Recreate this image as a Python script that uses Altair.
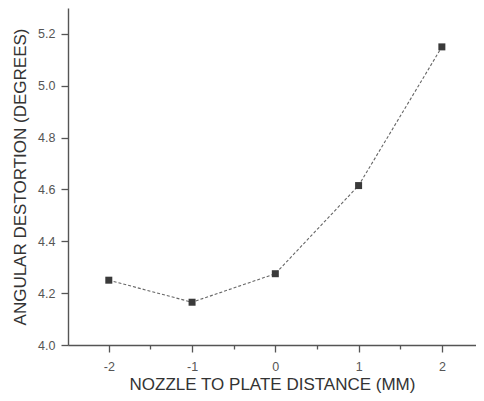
import altair as alt
import pandas as pd

distance = [-2, -1, 0, 1, 2]
distortion = [4.25, 4.165, 4.275, 4.615, 5.15]

x_ticks = [-2, -1.5, -1, -0.5, 0, 0.5, 1, 1.5, 2]
y_ticks = [4.0, 4.1, 4.2, 4.3, 4.4, 4.5, 4.6, 4.7, 4.8, 4.9, 5.0, 5.1, 5.2]

df = pd.DataFrame({"d": distance, "a": distortion})

xs = alt.Scale(domain=[-2.49, 2.41], nice=False)
ys = alt.Scale(domain=[4.0, 5.3], nice=False, zero=False)

x_minor = "abs(datum.value % 1) > 0.01"
y_minor = "round(datum.value * 10) % 2 == 1"

axis_common = dict(
    grid=False, domainColor="#555", tickColor="#555", labelColor="#555",
    titleColor="#333", labelFont="Liberation Sans", titleFont="Liberation Sans",
    labelFontSize=12.5, titleFontSize=17, titleFontWeight="normal",
    domainWidth=1.4, tickWidth=1.3,
)

x_axis = alt.Axis(values=x_ticks, title="NOZZLE TO PLATE DISTANCE (MM)",
                  labelExpr="abs(datum.value % 1) > 0.01 ? '' : datum.value + ''",
                  tickSize={"condition": {"test": x_minor, "value": 4}, "value": 7},
                  labelPadding=8, titlePadding=4, labelFlush=False, labelOverlap=False,
                  **axis_common)
y_axis = alt.Axis(values=y_ticks, title="ANGULAR DESTORTION (DEGREES)",
                  labelExpr="round(datum.value * 10) % 2 == 1 ? '' : format(datum.value, '.1f')",
                  tickSize={"condition": {"test": y_minor, "value": 4}, "value": 7},
                  labelPadding=6, titlePadding=8, labelFlush=False, labelOverlap=False,
                  **axis_common)

line = alt.Chart(df).mark_line(color="#666", strokeDash=[3, 2], strokeWidth=1.1).encode(
    x=alt.X("d:Q", scale=xs, axis=x_axis),
    y=alt.Y("a:Q", scale=ys, axis=y_axis),
)
pts = alt.Chart(df).mark_point(shape="square", filled=True, color="#3a3a3a", size=49, opacity=1).encode(
    x=alt.X("d:Q", scale=xs),
    y=alt.Y("a:Q", scale=ys),
)

chart = alt.layer(line, pts).properties(
    width=408, height=337,
    autosize=alt.AutoSizeParams(type="none"),
    padding={"left": 60, "top": 0, "right": 0, "bottom": 48},
    background="white",
).configure_view(stroke=None)

chart.save("out.html", embed_options={"renderer": "svg", "actions": False})
